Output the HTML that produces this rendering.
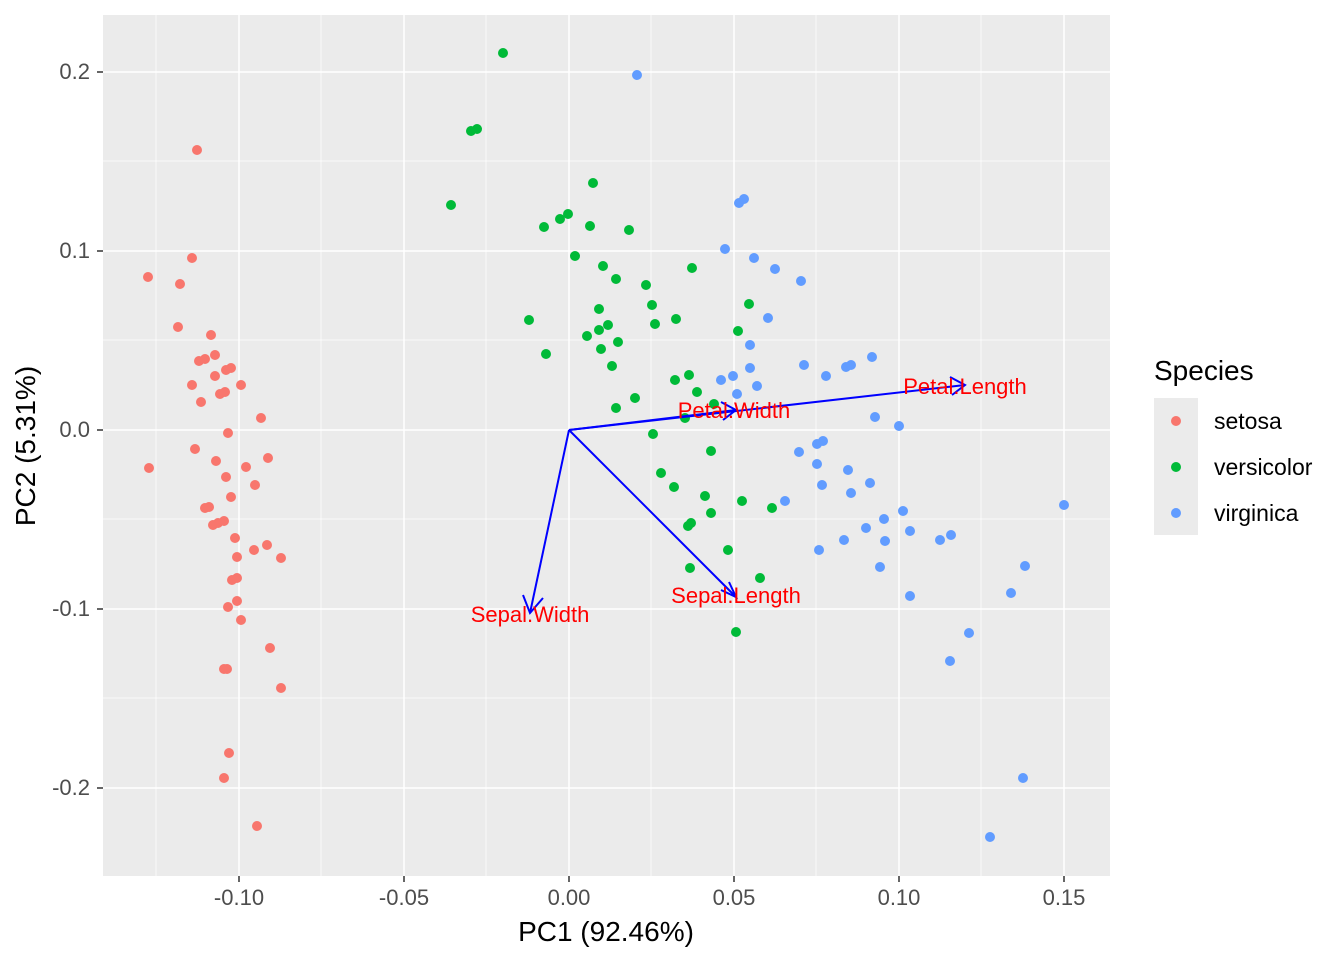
<!DOCTYPE html>
<html><head><meta charset="utf-8"><style>body{margin:0;background:#fff}svg{display:block}text{font-family:"Liberation Sans",Arial,sans-serif}</style></head><body>
<svg width="1344" height="960" viewBox="0 0 1344 960" xmlns="http://www.w3.org/2000/svg">
<rect width="1344" height="960" fill="#fff"/>
<rect x="103" y="15" width="1007" height="861" fill="#EBEBEB"/>
<g stroke="#fff" stroke-width="0.7">
<line x1="156" y1="15" x2="156" y2="876"/><line x1="321" y1="15" x2="321" y2="876"/><line x1="486" y1="15" x2="486" y2="876"/><line x1="651" y1="15" x2="651" y2="876"/><line x1="816" y1="15" x2="816" y2="876"/><line x1="981" y1="15" x2="981" y2="876"/>
<line x1="103" y1="161" x2="1110" y2="161"/><line x1="103" y1="340" x2="1110" y2="340"/><line x1="103" y1="519" x2="1110" y2="519"/><line x1="103" y1="698" x2="1110" y2="698"/>
</g>
<g stroke="#fff" stroke-width="1.5">
<line x1="239" y1="15" x2="239" y2="876"/><line x1="404" y1="15" x2="404" y2="876"/><line x1="569" y1="15" x2="569" y2="876"/><line x1="734" y1="15" x2="734" y2="876"/><line x1="899" y1="15" x2="899" y2="876"/><line x1="1064" y1="15" x2="1064" y2="876"/>
<line x1="103" y1="72" x2="1110" y2="72"/><line x1="103" y1="251" x2="1110" y2="251"/><line x1="103" y1="430" x2="1110" y2="430"/><line x1="103" y1="609" x2="1110" y2="609"/><line x1="103" y1="788" x2="1110" y2="788"/>
</g>
<g fill="#F8766D">
<circle cx="197" cy="150" r="5"/><circle cx="148" cy="277" r="5"/><circle cx="192" cy="258" r="5"/><circle cx="180" cy="284" r="5"/><circle cx="178" cy="327" r="5"/><circle cx="211" cy="335" r="5"/><circle cx="199" cy="361" r="5"/><circle cx="205" cy="359" r="5"/><circle cx="215" cy="355" r="5"/><circle cx="226" cy="370" r="5"/><circle cx="231" cy="368" r="5"/><circle cx="192" cy="385" r="5"/><circle cx="215" cy="376" r="5"/><circle cx="241" cy="385" r="5"/><circle cx="220" cy="394" r="5"/><circle cx="225" cy="392" r="5"/><circle cx="201" cy="402" r="5"/><circle cx="261" cy="418" r="5"/><circle cx="228" cy="433" r="5"/><circle cx="149" cy="468" r="5"/><circle cx="195" cy="449" r="5"/><circle cx="216" cy="461" r="5"/><circle cx="268" cy="458" r="5"/><circle cx="246" cy="467" r="5"/><circle cx="226" cy="477" r="5"/><circle cx="255" cy="485" r="5"/><circle cx="231" cy="497" r="5"/><circle cx="205" cy="508" r="5"/><circle cx="209" cy="507" r="5"/><circle cx="213" cy="525" r="5"/><circle cx="218" cy="523" r="5"/><circle cx="224" cy="521" r="5"/><circle cx="235" cy="538" r="5"/><circle cx="237" cy="557" r="5"/><circle cx="254" cy="550" r="5"/><circle cx="267" cy="545" r="5"/><circle cx="281" cy="558" r="5"/><circle cx="232" cy="580" r="5"/><circle cx="237" cy="578" r="5"/><circle cx="228" cy="607" r="5"/><circle cx="237" cy="601" r="5"/><circle cx="241" cy="620" r="5"/><circle cx="270" cy="648" r="5"/><circle cx="224" cy="669" r="5"/><circle cx="227" cy="669" r="5"/><circle cx="281" cy="688" r="5"/><circle cx="229" cy="753" r="5"/><circle cx="224" cy="778" r="5"/><circle cx="257" cy="826" r="5"/>
</g>
<g fill="#00BA38">
<circle cx="503" cy="53" r="5"/><circle cx="471" cy="131" r="5"/><circle cx="477" cy="129" r="5"/><circle cx="451" cy="205" r="5"/><circle cx="593" cy="183" r="5"/><circle cx="544" cy="227" r="5"/><circle cx="560" cy="219" r="5"/><circle cx="568" cy="214" r="5"/><circle cx="590" cy="226" r="5"/><circle cx="629" cy="230" r="5"/><circle cx="575" cy="256" r="5"/><circle cx="603" cy="266" r="5"/><circle cx="616" cy="279" r="5"/><circle cx="692" cy="268" r="5"/><circle cx="646" cy="285" r="5"/><circle cx="529" cy="320" r="5"/><circle cx="599" cy="309" r="5"/><circle cx="599" cy="330" r="5"/><circle cx="608" cy="325" r="5"/><circle cx="587" cy="336" r="5"/><circle cx="601" cy="349" r="5"/><circle cx="618" cy="342" r="5"/><circle cx="652" cy="305" r="5"/><circle cx="655" cy="324" r="5"/><circle cx="676" cy="319" r="5"/><circle cx="749" cy="304" r="5"/><circle cx="738" cy="331" r="5"/><circle cx="546" cy="354" r="5"/><circle cx="612" cy="366" r="5"/><circle cx="675" cy="380" r="5"/><circle cx="689" cy="375" r="5"/><circle cx="697" cy="392" r="5"/><circle cx="616" cy="408" r="5"/><circle cx="635" cy="398" r="5"/><circle cx="714" cy="404" r="5"/><circle cx="685" cy="418" r="5"/><circle cx="653" cy="434" r="5"/><circle cx="711" cy="451" r="5"/><circle cx="661" cy="473" r="5"/><circle cx="674" cy="487" r="5"/><circle cx="705" cy="496" r="5"/><circle cx="711" cy="513" r="5"/><circle cx="742" cy="501" r="5"/><circle cx="772" cy="508" r="5"/><circle cx="688" cy="526" r="5"/><circle cx="691" cy="523" r="5"/><circle cx="728" cy="550" r="5"/><circle cx="690" cy="568" r="5"/><circle cx="760" cy="578" r="5"/><circle cx="736" cy="632" r="5"/>
</g>
<g fill="#619CFF">
<circle cx="637" cy="75" r="5"/><circle cx="739" cy="203" r="5"/><circle cx="744" cy="199" r="5"/><circle cx="725" cy="249" r="5"/><circle cx="754" cy="258" r="5"/><circle cx="775" cy="269" r="5"/><circle cx="801" cy="281" r="5"/><circle cx="768" cy="318" r="5"/><circle cx="750" cy="345" r="5"/><circle cx="804" cy="365" r="5"/><circle cx="750" cy="368" r="5"/><circle cx="733" cy="376" r="5"/><circle cx="721" cy="380" r="5"/><circle cx="757" cy="386" r="5"/><circle cx="826" cy="376" r="5"/><circle cx="846" cy="367" r="5"/><circle cx="851" cy="365" r="5"/><circle cx="872" cy="357" r="5"/><circle cx="737" cy="394" r="5"/><circle cx="875" cy="417" r="5"/><circle cx="899" cy="426" r="5"/><circle cx="799" cy="452" r="5"/><circle cx="817" cy="444" r="5"/><circle cx="823" cy="441" r="5"/><circle cx="817" cy="464" r="5"/><circle cx="848" cy="470" r="5"/><circle cx="822" cy="485" r="5"/><circle cx="851" cy="493" r="5"/><circle cx="870" cy="483" r="5"/><circle cx="785" cy="501" r="5"/><circle cx="866" cy="528" r="5"/><circle cx="884" cy="519" r="5"/><circle cx="903" cy="511" r="5"/><circle cx="910" cy="531" r="5"/><circle cx="844" cy="540" r="5"/><circle cx="819" cy="550" r="5"/><circle cx="885" cy="541" r="5"/><circle cx="880" cy="567" r="5"/><circle cx="940" cy="540" r="5"/><circle cx="951" cy="535" r="5"/><circle cx="910" cy="596" r="5"/><circle cx="1064" cy="505" r="5"/><circle cx="1025" cy="566" r="5"/><circle cx="1011" cy="593" r="5"/><circle cx="969" cy="633" r="5"/><circle cx="950" cy="661" r="5"/><circle cx="1023" cy="778" r="5"/><circle cx="990" cy="837" r="5"/>
</g>
<g stroke="#0000FF" stroke-width="2" fill="none">
<line x1="569" y1="430" x2="965" y2="385"/><polyline points="950,377 965,385 952,395"/>
<line x1="569" y1="430" x2="736" y2="410"/><polyline points="721,402 736,410 723,420"/>
<line x1="569" y1="430" x2="736" y2="597"/><polyline points="729,582 736,597 721,590"/>
<line x1="569" y1="430" x2="530" y2="613"/><polyline points="523,595 530,613 543,598"/>
</g>
<g fill="#FF0000" font-size="22" text-anchor="middle">
<text x="965" y="394">Petal.Length</text><text x="734" y="418">Petal.Width</text><text x="736" y="603">Sepal.Length</text><text x="530" y="622">Sepal.Width</text>
</g>
<g stroke="#333" stroke-width="1.5">
<line x1="239" y1="876" x2="239" y2="882"/><line x1="404" y1="876" x2="404" y2="882"/><line x1="569" y1="876" x2="569" y2="882"/><line x1="734" y1="876" x2="734" y2="882"/><line x1="899" y1="876" x2="899" y2="882"/><line x1="1064" y1="876" x2="1064" y2="882"/>
<line x1="97" y1="72" x2="103" y2="72"/><line x1="97" y1="251" x2="103" y2="251"/><line x1="97" y1="430" x2="103" y2="430"/><line x1="97" y1="609" x2="103" y2="609"/><line x1="97" y1="788" x2="103" y2="788"/>
</g>
<g fill="#4D4D4D" font-size="22" text-anchor="middle">
<text x="239" y="905">-0.10</text><text x="404" y="905">-0.05</text><text x="569" y="905">0.00</text><text x="734" y="905">0.05</text><text x="899" y="905">0.10</text><text x="1064" y="905">0.15</text>
</g>
<g fill="#4D4D4D" font-size="22" text-anchor="end">
<text x="90" y="79">0.2</text><text x="90" y="258">0.1</text><text x="90" y="437">0.0</text><text x="90" y="616">-0.1</text><text x="90" y="795">-0.2</text>
</g>
<text x="606" y="941" font-size="28" text-anchor="middle" fill="#000">PC1 (92.46%)</text>
<text transform="translate(35,446) rotate(-90)" font-size="28" text-anchor="middle" fill="#000">PC2 (5.31%)</text>
<text x="1154" y="380" font-size="28" fill="#000">Species</text>
<rect x="1154" y="398" width="44" height="137" fill="#EBEBEB"/>
<circle cx="1176" cy="421" r="5" fill="#F8766D"/><circle cx="1176" cy="467" r="5" fill="#00BA38"/><circle cx="1176" cy="513" r="5" fill="#619CFF"/>
<g font-size="23" fill="#000"><text x="1214" y="429">setosa</text><text x="1214" y="475">versicolor</text><text x="1214" y="521">virginica</text></g>
</svg>
</body></html>
